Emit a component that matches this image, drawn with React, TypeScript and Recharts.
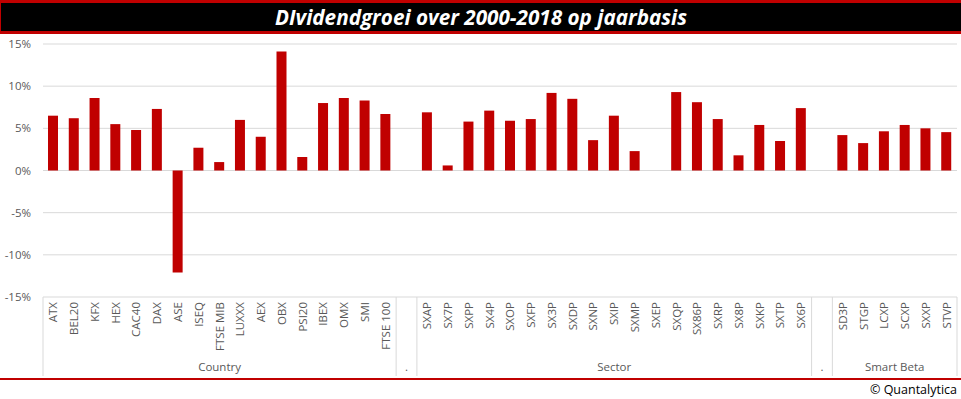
import React from "react";
import { BarChart, Bar, XAxis, YAxis, CartesianGrid } from "recharts";

const countryLabels = ["ATX", "BEL20", "KFX", "HEX", "CAC40", "DAX", "ASE", "ISEQ", "FTSE MIB", "LUXXX", "AEX", "OBX", "PSI20", "IBEX", "OMX", "SMI", "FTSE 100"];
const countryValues = [6.5, 6.2, 8.6, 5.5, 4.8, 7.3, -12.1, 2.7, 1.0, 6.0, 4.0, 14.1, 1.6, 8.0, 8.6, 8.3, 6.7];

const sectorLabels = ["SXAP", "SX7P", "SXPP", "SX4P", "SXOP", "SXFP", "SX3P", "SXDP", "SXNP", "SXIP", "SXMP", "SXEP", "SXQP", "SX86P", "SXRP", "SX8P", "SXKP", "SXTP", "SX6P"];
const sectorValues = [6.9, 0.6, 5.8, 7.1, 5.9, 6.1, 9.2, 8.5, 3.6, 6.5, 2.3, 0, 9.3, 8.1, 6.1, 1.8, 5.4, 3.5, 7.4];

const smartBetaLabels = ["SD3P", "STGP", "LCXP", "SCXP", "SXXP", "STVP"];
const smartBetaValues = [4.2, 3.25, 4.65, 5.4, 5.0, 4.55];

const yTicks = [-15, -10, -5, 0, 5, 10, 15];

const groups = [
  { name: "Country", labels: countryLabels, values: countryValues },
  { name: ".", labels: [""], values: [null] },
  { name: "Sector", labels: sectorLabels, values: sectorValues },
  { name: ".", labels: [""], values: [null] },
  { name: "Smart Beta", labels: smartBetaLabels, values: smartBetaValues },
];

// platte rijen voor recharts, met info over de groep
const rows = groups.flatMap((g, gi) =>
  g.labels.map((label, i) => ({
    key: `${gi}-${i}`,
    label,
    value: g.values[i],
    group: g.name,
    groupIndex: gi,
    pos: i,
    size: g.labels.length,
  }))
);

const W = 961;
const CHART_H = 380;
const Y_AXIS_W = 43;
const RIGHT = 4;
const BAND = (W - Y_AXIS_W - RIGHT) / rows.length;
const GRID = "#d9d9d9";
const TEXT = "#595959";
const FONT = "'Open Sans', sans-serif";

function CategoryTick(props: any) {
  const { x, y, payload } = props;
  const row = rows[payload.index];
  if (!row) return null;
  const half = BAND / 2;
  const isLastGroup = row.groupIndex === groups.length - 1;
  const mid = Math.floor((row.size - 1) / 2);
  return (
    <g>
      <text
        x={x}
        y={y + 5}
        dy="0.35em"
        transform={`rotate(-90, ${x}, ${y + 5})`}
        textAnchor="end"
        fontSize={11.5}
        fontFamily={FONT}
        fill={TEXT}
      >
        {row.label}
      </text>
      {row.pos === 0 && <line x1={x - half} x2={x - half} y1={y} y2={y + 79} stroke={GRID} />}
      {isLastGroup && row.pos === row.size - 1 && (
        <line x1={x + half} x2={x + half} y1={y} y2={y + 79} stroke={GRID} />
      )}
      {row.pos === mid && (
        <text
          x={x + ((row.size - 1) / 2 - mid) * BAND}
          y={y + 74}
          textAnchor="middle"
          fontSize={11.5}
          fontFamily={FONT}
          fill={TEXT}
        >
          {row.group}
        </text>
      )}
    </g>
  );
}

export default function App() {
  return (
    <div style={{ position: "relative", width: W, height: 399, background: "#fff", overflow: "hidden" }}>
      <style>{"body{margin:0}"}</style>

      {/* titelbalk */}
      <div style={{ position: "absolute", left: 0, top: 0, width: W, height: 34, background: "#c00000" }} />
      <div
        style={{
          position: "absolute",
          left: 1,
          top: 3,
          width: W - 1,
          height: 28,
          background: "#000",
          color: "#fff",
          fontFamily: FONT,
          fontWeight: 700,
          fontStyle: "italic",
          fontSize: 20.7,
          lineHeight: "28px",
          textAlign: "center",
        }}
      >
        DIvidendgroei over 2000-2018 op jaarbasis
      </div>

      <div style={{ position: "absolute", left: 0, top: 0 }}>
        <BarChart width={W} height={CHART_H} data={rows} margin={{ top: 44, right: RIGHT, bottom: 0, left: 0 }}>
          <CartesianGrid vertical={false} stroke={GRID} />
          <YAxis
            width={Y_AXIS_W}
            domain={[-15, 15]}
            ticks={yTicks}
            axisLine={false}
            tickLine={false}
            tickSize={10}
            tickMargin={2}
            tickFormatter={(v: number) => `${v}%`}
            tick={{ fontSize: 11.5, fontFamily: FONT, fill: TEXT }}
          />
          <XAxis
            dataKey="key"
            interval={0}
            height={CHART_H - 44 - 253}
            axisLine={false}
            tickLine={false}
            tickSize={0}
            tickMargin={0}
            tick={(p: any) => <CategoryTick {...p} />}
          />
          <Bar dataKey="value" fill="#c00000" barSize={10} isAnimationActive={false} />
        </BarChart>
      </div>

      {/* voettekst */}
      <div style={{ position: "absolute", left: 0, top: 378, width: W, height: 2, background: "#c00000" }} />
      <div
        style={{
          position: "absolute",
          right: 4,
          top: 381,
          fontFamily: FONT,
          fontSize: 12.5,
          color: "#000",
          lineHeight: "17px",
        }}
      >
        © Quantalytica
      </div>
    </div>
  );
}
